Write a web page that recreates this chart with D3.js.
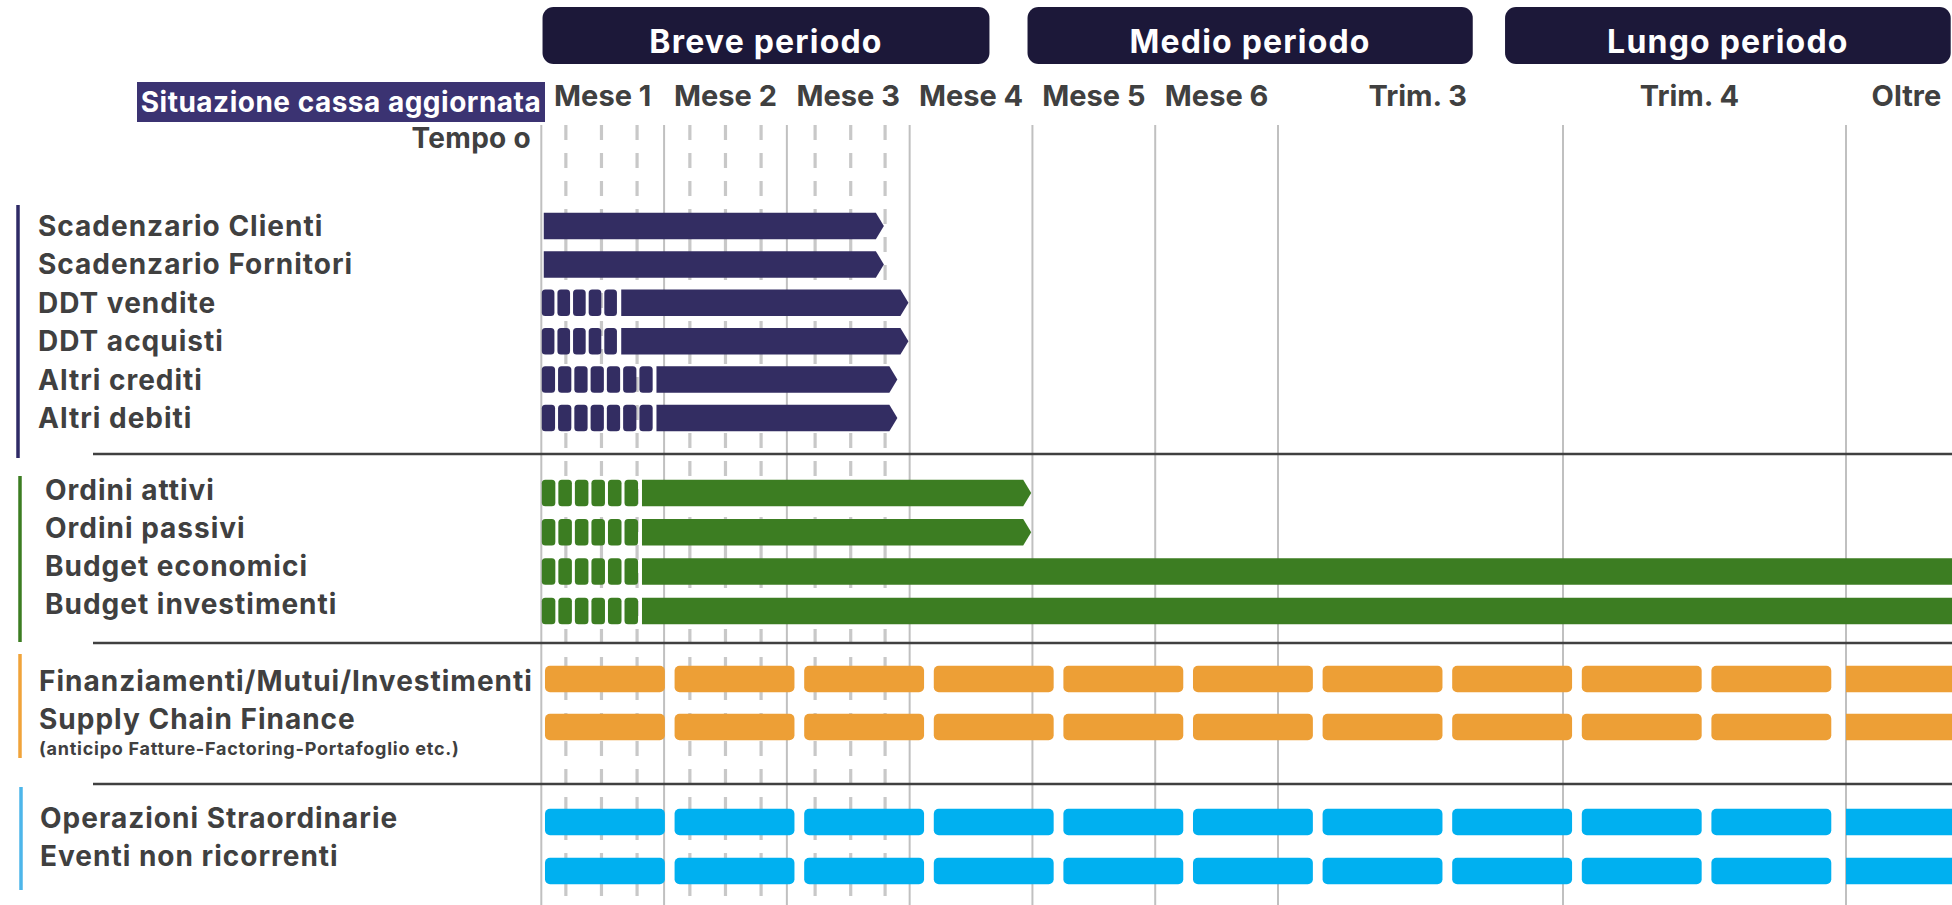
<!DOCTYPE html>
<html><head><meta charset="utf-8">
<script src="https://cdn.jsdelivr.net/npm/d3@7"></script>
<style>
html,body{margin:0;padding:0;background:#fff;overflow:hidden}
text{font-family:Inter,'Liberation Sans',sans-serif;font-weight:700}
</style>
</head><body><svg id="chart" width="1952" height="905"></svg>
<script>
// ---------- DATA ----------
const columns = ["Mese 1","Mese 2","Mese 3","Mese 4","Mese 5","Mese 6","Trim. 3","Trim. 4","Oltre"];
const columnCenter = [0.5,1.5,2.5,3.5,4.5,5.5,7.47,10.34,12.64];   // months
const monthLines = [0,1,2,3,4,5,6,9,12];
const weekLines = [0.20,0.49,0.78,1.21,1.50,1.79,2.23,2.52,2.80];
const periods = ["Breve periodo","Medio periodo","Lungo periodo"];
const periodStart = [0.01,3.96,8.39];
const periodEnd = [3.65,8.05,13.11];

const navyLabels = ["Scadenzario Clienti","Scadenzario Fornitori","DDT vendite","DDT acquisti","Altri crediti","Altri debiti"];
const navySegCount = [0,0,5,5,7,7];
const navySegEnd = [0,0,0.616,0.616,0.907,0.907];
const navyBarStart = [0.02,0.02,0.651,0.651,0.938,0.938];
const navyBarEnd = [2.79,2.79,2.99,2.99,2.90,2.90];

const greenLabels = ["Ordini attivi","Ordini passivi","Budget economici","Budget investimenti"];
const greenSegCount = [6,6,6,6];
const greenSegEnd = [0.788,0.788,0.788,0.788];
const greenBarStart = [0.82,0.82,0.82,0.82];
const greenBarEnd = [3.99,3.99,15,15];
const greenArrow = [true,true,false,false];

const orangeLabels = ["Finanziamenti/Mutui/Investimenti","Supply Chain Finance"];
const orangeNote = "(anticipo Fatture-Factoring-Portafoglio etc.)";
const blueLabels = ["Operazioni Straordinarie","Eventi non ricorrenti"];
const installments = d3.range(10);       // 10 rate nei primi 12 mesi
const beyondStart = 12, beyondEnd = 15;  // prosecuzione "Oltre"

const headerLabel = "Situazione cassa aggiornata";
const timeZero = "Tempo o";

// ---------- LAYOUT ----------
const W = 1952, H = 905;
const svg = d3.select("#chart");
const x = d3.scaleLinear().domain([0,6,9,12,15]).range([541.3,1278,1563,1846,2129]);
const textCol = "#404040";
const C = {navy:"#332d62", green:"#3c7d22", orange:"#ed9f36", blue:"#00b0f0",
           navyLine:"#2e2a66", greenLine:"#3c7d22", orangeLine:"#f0a33a", blueLine:"#4db6ea",
           period:"#1c1839", header:"#3b3372", grid:"#c0c0c0", week:"#c8c8c8", sep:"#404040"};
const barH = 26.5, tip = 8, segGap = 3;
const fs = 28;

// grid
const grid = svg.append("g");
grid.selectAll("line.m").data(monthLines).join("line")
  .attr("x1", d=>x(d)).attr("x2", d=>x(d)).attr("y1",125).attr("y2",H)
  .attr("stroke",C.grid).attr("stroke-width",2);
grid.selectAll("line.w").data(weekLines).join("line")
  .attr("x1", d=>x(d)).attr("x2", d=>x(d)).attr("y1",125).attr("y2",H)
  .attr("stroke",C.week).attr("stroke-width",3.2).attr("stroke-dasharray","15 13");

// period boxes
const pg = svg.append("g");
periods.forEach((p,i)=>{
  pg.append("rect").attr("x",x(periodStart[i])).attr("y",7)
    .attr("width",x(periodEnd[i])-x(periodStart[i])).attr("height",57)
    .attr("rx",11).attr("fill",C.period);
  pg.append("text").attr("x",(x(periodStart[i])+x(periodEnd[i]))/2).attr("y",53)
    .attr("text-anchor","middle").attr("fill","#fff").attr("font-size",32)
    .attr("letter-spacing",1.2).text(p);
});

// column headers
svg.append("g").selectAll("text").data(columns).join("text")
  .attr("x",(d,i)=>x(columnCenter[i])).attr("y",106).attr("text-anchor","middle")
  .attr("font-size",29).attr("fill",textCol).text(d=>d);

// header box
svg.append("rect").attr("x",137).attr("y",82).attr("width",408).attr("height",40).attr("fill",C.header);
svg.append("text").attr("x",341).attr("y",111.5).attr("text-anchor","middle")
  .attr("font-size",fs).attr("letter-spacing",0.5).attr("fill","#fff").text(headerLabel);
svg.append("text").attr("x",531).attr("y",148).attr("text-anchor","end")
  .attr("font-size",fs).attr("letter-spacing",0.3).attr("fill",textCol).text(timeZero);

// separators
svg.append("g").selectAll("line").data([454,643,784]).join("line")
  .attr("x1",93).attr("x2",W).attr("y1",d=>d).attr("y2",d=>d)
  .attr("stroke",C.sep).attr("stroke-width",2.6);

// group side lines
const sideLines = [
  {c:C.navyLine,x:18,y0:205,y1:458},{c:C.greenLine,x:20,y0:476,y1:642},
  {c:C.orangeLine,x:20,y0:654,y1:758},{c:C.blueLine,x:21,y0:787,y1:890}];
svg.append("g").selectAll("line").data(sideLines).join("line")
  .attr("x1",d=>d.x).attr("x2",d=>d.x).attr("y1",d=>d.y0).attr("y2",d=>d.y1)
  .attr("stroke",d=>d.c).attr("stroke-width",3.5);

function labels(list, lx, y0, step){
  svg.append("g").selectAll("text").data(list).join("text")
    .attr("x",lx).attr("y",(d,i)=>y0+i*step+10).attr("font-size",fs)
    .attr("letter-spacing",1).attr("fill",textCol).text(d=>d);
}
function arrowPath(x0,x1,yc,arrow){
  const t = arrow?tip:0;
  return `M${x0},${yc-barH/2}H${x1-t}L${x1},${yc}L${x1-t},${yc+barH/2}H${x0}Z`;
}
function progressRows(n, segCount, segEnd, barStart, barEnd, arrows, y0, step, color){
  const g = svg.append("g");
  for(let i=0;i<n;i++){
    const yc = y0+i*step;
    if(segCount[i]>0){
      const s0 = x(0)+0.5, s1 = x(segEnd[i]);
      const w = (s1-s0-(segCount[i]-1)*segGap)/segCount[i];
      g.selectAll(null).data(d3.range(segCount[i])).join("rect")
        .attr("x",k=>s0+k*(w+segGap)).attr("y",yc-barH/2).attr("width",w).attr("height",barH)
        .attr("rx",3.5).attr("fill",color);
    }
    g.append("path").attr("d",arrowPath(x(barStart[i]),Math.min(x(barEnd[i]),W+20),yc,arrows[i]))
      .attr("fill",color);
  }
}
function installmentRows(n, y0, step, color){
  const band = d3.scaleBand().domain(installments).range([x(0),x(12)])
    .paddingInner(0.075).paddingOuter(0.071).align(0.2);
  const g = svg.append("g");
  for(let i=0;i<n;i++){
    const yc = y0+i*step;
    g.selectAll(null).data(installments).join("rect")
      .attr("x",d=>band(d)).attr("y",yc-barH/2).attr("width",band.bandwidth()).attr("height",barH)
      .attr("rx",5).attr("fill",color);
    g.append("rect").attr("x",x(beyondStart)).attr("y",yc-barH/2)
      .attr("width",x(beyondEnd)-x(beyondStart)).attr("height",barH).attr("fill",color);
  }
}

// navy group
labels(navyLabels,38,225.5,38.5);
progressRows(6,navySegCount,navySegEnd,navyBarStart,navyBarEnd,[true,true,true,true,true,true],226,38.4,C.navy);
// green group
labels(greenLabels,45,490,38);
progressRows(4,greenSegCount,greenSegEnd,greenBarStart,greenBarEnd,greenArrow,493,39.3,C.green);
// orange group
labels(orangeLabels,39,681,38);
svg.append("text").attr("x",39).attr("y",755).attr("font-size",18).attr("letter-spacing",0.75)
  .attr("fill",textCol).text(orangeNote);
installmentRows(2,679,48,C.orange);
// blue group
labels(blueLabels,40,818,38);
installmentRows(2,822,49,C.blue);
</script></body></html>
